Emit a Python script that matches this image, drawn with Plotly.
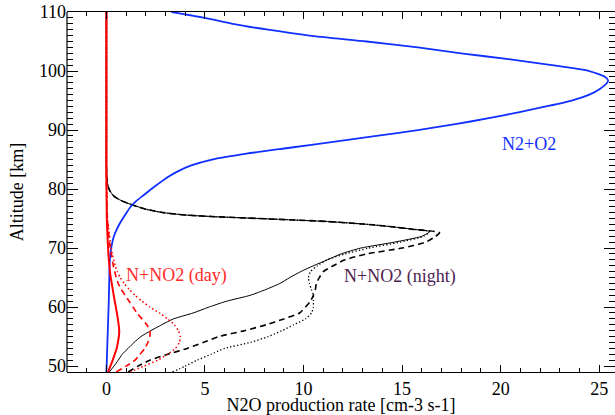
import plotly.graph_objects as go

# ---------------- data ----------------
# N2+O2 (blue)
n2o2_alt = [49, 52, 55, 58, 61, 64, 67, 69, 71, 72, 73, 74, 75, 76, 77, 78, 79, 80, 81, 82,
            83, 84, 85, 86, 87, 88, 89, 90, 91, 92, 93, 94, 95, 96, 97, 98, 98.4, 99, 100,
            101, 102, 103, 104, 105, 106, 107, 108, 109, 110]
n2o2_val = [0.0, 0.03, 0.06, 0.09, 0.12, 0.14, 0.16, 0.2, 0.3, 0.38, 0.5, 0.65, 0.83, 1.02, 1.23,
            1.52, 1.9, 2.28, 2.68, 3.1, 3.62, 4.3, 5.35, 7.1, 9.3, 11.5, 13.7, 15.8, 17.7, 19.4,
            20.9, 22.3, 23.6, 24.5, 25.05, 25.4, 25.45, 25.3, 24.5, 22.6, 20.4, 18.0, 15.8,
            13.2, 10.3, 8.2, 6.4, 5.0, 3.3]

# N+NO2 night: common upper branch (above the peak)
night_up_alt = [73.2, 73.6, 74.0, 74.5, 75.0, 75.3, 75.6, 76.0, 76.5, 77.0, 77.5, 78.0, 78.5,
                79.0, 80.0, 81.0, 82.0, 84.0, 90.0, 100.0, 110.0]
night_up_val = [15.5, 14.5, 13.3, 11.2, 7.8, 5.6, 4.0, 2.9, 2.1, 1.6, 1.15, 0.78, 0.5,
                0.32, 0.13, 0.05, 0.02, 0.0, 0.0, 0.0, 0.0]

# solid, dashed, dotted lower branches (below and including the peak)
night_solid_alt = [49, 50, 51, 52, 53, 54, 55, 56, 57, 58, 59, 60, 61, 62, 63, 64, 65, 66, 67,
                   68, 69, 70, 71, 72, 72.8]
night_solid_val = [0.15, 0.38, 0.6, 0.8, 1.1, 1.4, 1.75, 2.25, 2.8, 3.4, 4.4, 5.2, 6.1, 7.3, 8.1,
                   8.8, 9.3, 9.85, 10.5, 11.2, 11.9, 12.9, 14.6, 16.0, 16.4]

night_dash_alt = [49, 50, 51, 52, 53, 54, 55, 56, 57, 58, 59, 60, 61, 62, 63, 64, 65, 66, 67,
                  68, 69, 70, 71, 72, 72.6]
night_dash_val = [1.1, 1.6, 2.2, 3.1, 4.1, 4.9, 5.7, 7.0, 8.1, 9.0, 9.8, 10.1, 10.35, 10.5, 10.6,
                  10.65, 10.8, 11.0, 11.5, 12.1, 13.2, 15.0, 16.2, 16.7, 16.9]

night_dot_alt = [49, 50, 51, 52, 53, 54, 55, 56, 57, 58, 59, 60, 61, 62, 63, 64, 65, 66, 67,
                 68, 69, 70, 71, 72, 72.8]
night_dot_val = [3.35, 4.0, 4.6, 5.3, 6.0, 7.3, 8.2, 8.9, 9.5, 10.1, 10.4, 10.5, 10.5, 10.5, 10.4,
                 10.3, 10.25, 10.35, 10.7, 11.2, 12.1, 13.3, 14.9, 16.1, 16.4]

# N+NO2 day (red)
day_alt = [49, 50, 51, 52, 53, 54, 55, 56, 57, 58, 59, 60, 61, 62, 63, 64, 65, 66, 67, 69, 71,
           73, 75, 78, 82, 90, 100, 110]
day_solid_val = [0.08, 0.2, 0.32, 0.42, 0.52, 0.58, 0.63, 0.65, 0.62, 0.58, 0.53, 0.48, 0.42,
                 0.37, 0.32, 0.27, 0.22, 0.18, 0.15, 0.1, 0.07, 0.04, 0.02, 0.01, 0.0, 0.0, 0.0, 0.0]
day_dash_val = [0.5, 1.0, 1.45, 1.7, 1.95, 2.1, 2.2, 2.2, 2.05, 1.8, 1.55, 1.35, 1.15, 0.95, 0.75,
                0.6, 0.5, 0.42, 0.35, 0.25, 0.15, 0.1, 0.05, 0.02, 0.0, 0.0, 0.0, 0.0]
day_dot_val = [1.2, 1.9, 2.6, 3.1, 3.5, 3.7, 3.75, 3.65, 3.45, 3.1, 2.7, 2.2, 1.8, 1.45, 1.15,
               0.9, 0.7, 0.55, 0.45, 0.3, 0.2, 0.12, 0.05, 0.02, 0.0, 0.0, 0.0, 0.0]

labels = ["N2+O2", "N+NO2 (day)", "N+NO2 (night)"]
label_x = [21.43, 3.55, 14.9]
label_y = [87.6, 65.4, 65.2]
label_colors = ["#1030ff", "#ff2a2a", "#4e2350"]

x_title = "N2O production rate [cm-3 s-1]"
y_title = "Altitude [km]"

FONT = "Liberation Serif"

fig = go.Figure()

def add(x, y, color, width, dash="solid", shape="spline"):
    fig.add_trace(go.Scatter(x=x, y=y, mode="lines",
                             line=dict(color=color, width=width, dash=dash, shape=shape,
                                       smoothing=0.6),
                             showlegend=False, hoverinfo="skip"))

# black (night)
add(night_solid_val + night_up_val, night_solid_alt + night_up_alt, "black", 1.0)
add(night_dash_val + night_up_val, night_dash_alt + night_up_alt, "black", 1.6, "6px,4px")
add(night_dot_val + night_up_val, night_dot_alt + night_up_alt, "black", 1.3, "1.3px,2.2px")
# blue
add(n2o2_val, n2o2_alt, "#1030ff", 1.8)
# red (day)
add(day_dot_val, day_alt, "#ff0000", 1.5, "1.5px,2.5px")
add(day_dash_val, day_alt, "#ff0000", 1.6, "6px,4px")
add(day_solid_val, day_alt, "#ff0000", 2.0)

for t, xx, yy, c in zip(labels, label_x, label_y, label_colors):
    fig.add_annotation(x=xx, y=yy, xref="x", yref="y", text=t, showarrow=False,
                       font=dict(family=FONT, size=18, color=c))

# left frame line (right side lies outside the cropped picture)
fig.add_shape(type="line", xref="paper", yref="paper", x0=0, x1=0, y0=0, y1=1,
              line=dict(color="black", width=1.2))

fig.update_layout(
    width=615, height=415,
    margin=dict(l=67, r=0, t=12, b=43),
    paper_bgcolor="white", plot_bgcolor="white",
    font=dict(family=FONT, size=18, color="black"),
    xaxis=dict(range=[-2, 25.8], tick0=0, dtick=5, ticks="inside", ticklen=7,
               tickcolor="black", tickwidth=1, showline=True, linecolor="black",
               linewidth=1.2, mirror="allticks", showgrid=False, zeroline=False,
               minor=dict(ticks="inside", ticklen=4, dtick=1, tick0=0, tickcolor="black",
                          tickwidth=1, showgrid=False),
               title=dict(text=x_title, font=dict(family=FONT, size=18), standoff=2),
               tickfont=dict(family=FONT, size=18)),
    yaxis=dict(range=[49, 110], tick0=50, dtick=10, ticks="inside", ticklen=11,
               tickcolor="black", tickwidth=1, showline=False,
               mirror="allticks", showgrid=False, zeroline=False,
               minor=dict(ticks="inside", ticklen=6, dtick=1, tick0=50, tickcolor="black",
                          tickwidth=1, showgrid=False),
               title=dict(text=y_title, font=dict(family=FONT, size=18), standoff=10),
               tickfont=dict(family=FONT, size=18)),
)

fig.write_html("out.html", config={"displayModeBar": False, "staticPlot": True},
               post_script="document.body.style.margin='0px';document.body.style.overflow='hidden';")
